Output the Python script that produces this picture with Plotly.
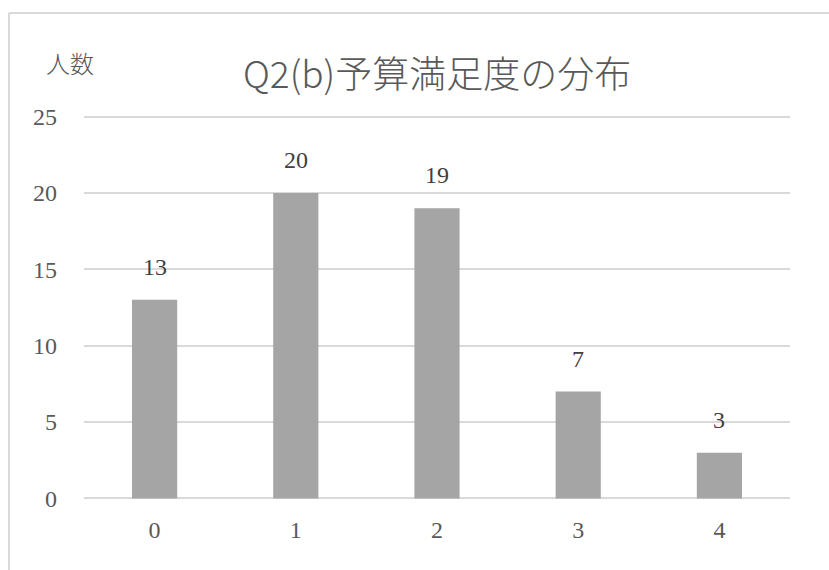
import plotly.graph_objects as go

categories = ["0", "1", "2", "3", "4"]
counts = [13, 20, 19, 7, 3]
y_ticks = [0, 5, 10, 15, 20, 25]
title_text = "Q2(b)予算満足度の分布"
y_title = "人数"

serif = "'Liberation Serif', 'DejaVu Serif', serif"
sans = "'Noto Sans CJK JP', 'Noto Sans', sans-serif"
txt = "#595959"

fig = go.Figure()
fig.add_trace(go.Bar(
    x=categories, y=counts,
    marker=dict(color="#a5a5a5", line=dict(width=0)),
    hoverinfo="skip",
))

for c, v in zip(categories, counts):
    fig.add_annotation(x=c, y=v, text=str(v), showarrow=False, yshift=33,
                       font=dict(family=serif, size=24, color="#404040"))

W, H = 829, 570
L, R, T, B = 84, 39, 115, 70
pw, ph = W - L - R, H - T - B

def px_x(x):
    return (x - L) / pw

def px_y(y):
    return (H - B - y) / ph

fig.add_annotation(xref="paper", yref="paper", x=px_x(437), y=px_y(72),
                   text=title_text, showarrow=False, xanchor="center", yanchor="middle",
                   font=dict(family=sans, size=37, color=txt, weight=300))
fig.add_annotation(xref="paper", yref="paper", x=px_x(70), y=px_y(63),
                   text=y_title, showarrow=False, xanchor="center", yanchor="middle",
                   font=dict(family=sans, size=24, color=txt, weight=300))

# chart area border (top and left visible)
fig.add_shape(type="line", xref="paper", yref="paper",
              x0=px_x(9), x1=px_x(829), y0=px_y(13), y1=px_y(13),
              line=dict(color="#d9d9d9", width=2))
fig.add_shape(type="line", xref="paper", yref="paper",
              x0=px_x(9), x1=px_x(9), y0=px_y(13), y1=px_y(570),
              line=dict(color="#d9d9d9", width=2))

fig.update_layout(
    width=W, height=H,
    margin=dict(l=L, r=R, t=T, b=B),
    paper_bgcolor="white", plot_bgcolor="white",
    showlegend=False,
    bargap=0.68,
    xaxis=dict(showgrid=False, zeroline=False, showline=False, ticks="",
               tickfont=dict(family=serif, size=24, color=txt),
               ticklabelstandoff=13),
    yaxis=dict(range=[-0.1, 25.1], tickvals=y_ticks, showgrid=True, gridcolor="#d9d9d9",
               gridwidth=1.5, zeroline=False, showline=False, ticks="",
               tickfont=dict(family=serif, size=24, color=txt),
               ticklabelstandoff=26),
)

fig.write_html("out.html")
